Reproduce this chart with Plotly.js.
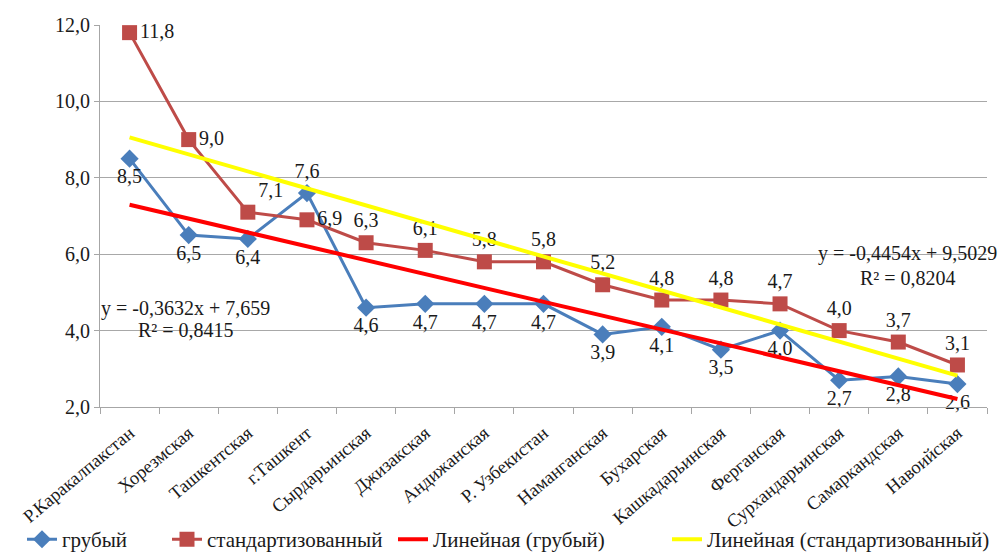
<!DOCTYPE html>
<html>
<head>
<meta charset="utf-8">
<script src="https://cdn.plot.ly/plotly-3.0.1.min.js"></script>
<style>html,body{margin:0;padding:0;background:#fff;}#chart{width:1004px;height:554px;}</style>
</head>
<body>
<div id="chart"></div>
<script>
const categories = ["Р.Каракалпакстан","Хорезмская","Ташкентская","г.Ташкент","Сырдарьинская","Джизакская","Андижанская","Р. Узбекистан","Наманганская","Бухарская","Кашкадарьинская","Ферганская","Сурхандарьинская","Самаркандская","Навоийская"];
const crude = [8.5, 6.5, 6.4, 7.6, 4.6, 4.7, 4.7, 4.7, 3.9, 4.1, 3.5, 4.0, 2.7, 2.8, 2.6];
const standardized = [11.8, 9.0, 7.1, 6.9, 6.3, 6.1, 5.8, 5.8, 5.2, 4.8, 4.8, 4.7, 4.0, 3.7, 3.1];
const seriesNames = ["грубый","стандартизованный","Линейная (грубый)","Линейная (стандартизованный)"];
const equationCrude = ["y = -0,3632x + 7,659","R² = 0,8415"];
const equationStd = ["y = -0,4454x + 9,5029","R² = 0,8204"];
const yTicks = [2, 4, 6, 8, 10, 12];

function fmt(v){ return v.toFixed(1).replace('.', ','); }
function linReg(ys){
  const n = ys.length; let sx=0, sy=0, sxx=0, sxy=0;
  ys.forEach((y,i)=>{const x=i+1; sx+=x; sy+=y; sxx+=x*x; sxy+=x*y;});
  const b = (n*sxy - sx*sy)/(n*sxx - sx*sx);
  const a = (sy - b*sx)/n;
  return ys.map((_,i)=> a + b*(i+1));
}

const crudePos = crude.map((v,i)=> i===3 ? "top center" : "bottom center");
const stdPos = standardized.map((v,i)=> (i<2 || i===3) ? "middle right" : (i===2 ? "top right" : "top center"));

const serif = "Liberation Serif";
const ink = "#1a1a1a";
const traces = [
  {x: categories, y: crude, name: seriesNames[0], type: "scatter", mode: "lines+markers+text", legend: "legend",
   line: {color: "#4A7EBB", width: 3}, marker: {symbol: "diamond", size: 14, color: "#4A7EBB"},
   text: crude.map(fmt), textposition: crudePos, textfont: {family: serif, size: 20, color: ink}, cliponaxis: false},
  {x: categories, y: standardized, name: seriesNames[1], type: "scatter", mode: "lines+markers+text", legend: "legend2",
   line: {color: "#BE4B48", width: 3}, marker: {symbol: "square", size: 15, color: "#BE4B48"},
   text: standardized.map(fmt), textposition: stdPos, textfont: {family: serif, size: 20, color: ink}, cliponaxis: false},
  {x: categories, y: linReg(crude), name: seriesNames[2], type: "scatter", mode: "lines", legend: "legend3",
   line: {color: "#FF0000", width: 4}},
  {x: categories, y: linReg(standardized), name: seriesNames[3], type: "scatter", mode: "lines", legend: "legend4",
   line: {color: "#FFFF00", width: 4}}
];

const annFont = {family: serif, size: 20, color: ink};
function leg(xpx){
  return {orientation: "h", xref: "container", yref: "container", x: xpx/1004, xanchor: "left",
          y: 0.026, yanchor: "middle", font: {family: serif, size: 21, color: ink}, bgcolor: "rgba(0,0,0,0)"};
}
const layout = {
  width: 1004, height: 554,
  margin: {l: 100, r: 17, t: 25, b: 147},
  paper_bgcolor: "#fff", plot_bgcolor: "#fff",
  font: {family: serif, size: 19, color: ink},
  xaxis: {type: "category", tickangle: -40, tickfont: {family: serif, size: 18.5, color: ink},
          showgrid: false, showline: true, linecolor: "#A6A6A6", linewidth: 1, automargin: false,
          ticks: "outside", ticklen: 6, tickcolor: "#A6A6A6", tickson: "boundaries", ticklabelstandoff: 7,
          range: [-0.5, 14.5]},
  yaxis: {range: [2, 12], tickvals: yTicks, ticktext: yTicks.map(fmt), tickfont: {family: serif, size: 20, color: ink},
          showgrid: true, gridcolor: "#A8A8A8", gridwidth: 1, showline: true, linecolor: "#A6A6A6", automargin: false,
          ticks: "outside", ticklen: 5, tickcolor: "#A6A6A6", zeroline: false},
  showlegend: true,
  legend: leg(22), legend2: leg(167), legend3: leg(393), legend4: leg(667),
  annotations: [
    {x: 0.95, y: 4.59, xref: "x", yref: "y", text: equationCrude[0], showarrow: false, font: annFont},
    {x: 0.95, y: 4.02, xref: "x", yref: "y", text: equationCrude[1], showarrow: false, font: annFont},
    {x: 13.16, y: 6.03, xref: "x", yref: "y", text: equationStd[0], showarrow: false, font: annFont},
    {x: 13.16, y: 5.38, xref: "x", yref: "y", text: equationStd[1], showarrow: false, font: annFont}
  ]
};
Plotly.newPlot("chart", traces, layout, {displayModeBar: false, staticPlot: true});
</script>
</body>
</html>
